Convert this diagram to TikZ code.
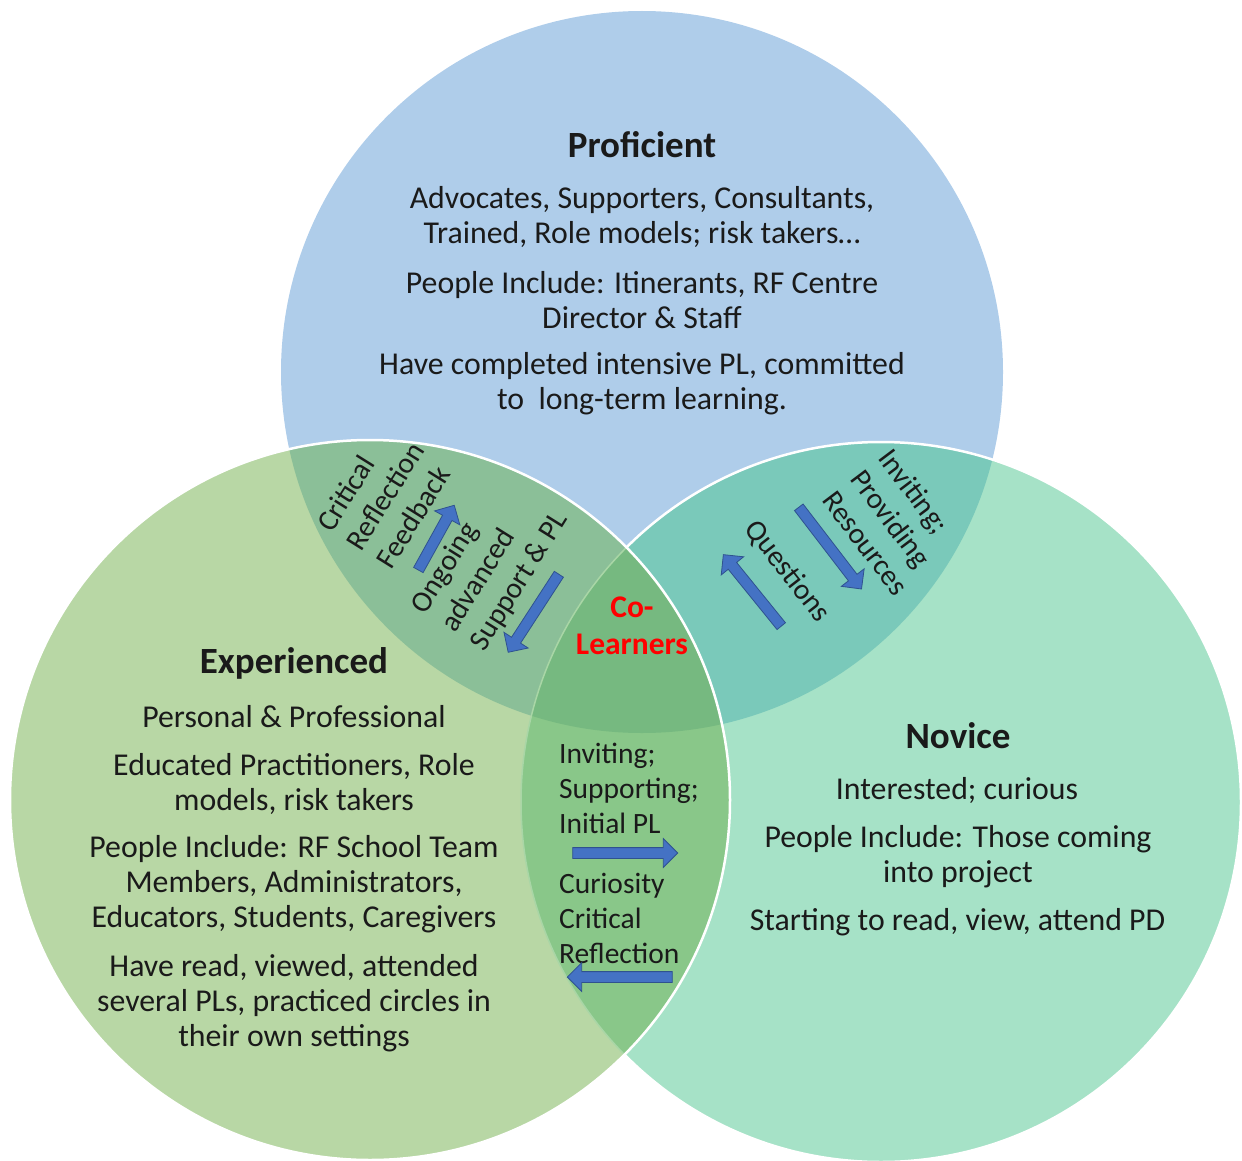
\documentclass[tikz,border=0pt]{standalone}
\usepackage{fontspec}
\setmainfont{Carlito}
\usetikzlibrary{shapes.arrows}

\definecolor{profc}{HTML}{AFCDEA}
\definecolor{expc}{HTML}{B8D7A5}
\definecolor{novc}{HTML}{A6E2C7}
\definecolor{pec}{HTML}{8BBF98}
\definecolor{pnc}{HTML}{7AC9BA}
\definecolor{enc}{HTML}{89C789}
\definecolor{allc}{HTML}{76B980}
\definecolor{faintc}{HTML}{A9D6A6}
\definecolor{inkc}{HTML}{1A1A1A}
\definecolor{arrowc}{HTML}{4472C4}
\definecolor{arrowedge}{HTML}{2F528F}
\definecolor{colearn}{HTML}{FF0000}

% the three sets
\newcommand\ProfSet{(642,372) circle[radius=361pt]}
\newcommand\ExpSet{(370,800) circle[radius=360pt]}
\newcommand\NovSet{(881,802) circle[radius=360pt]}

\begin{document}
\begin{tikzpicture}[x=1pt,y=-1pt,
  body/.style={font=\fontsize{31.8}{35}\selectfont, text=inkc, align=center, inner sep=0pt},
  title/.style={font=\fontsize{37}{42}\selectfont\bfseries, text=inkc, inner sep=0pt},
  side/.style={font=\fontsize{29.5}{35}\selectfont, text=inkc, align=left, inner sep=0pt},
  blockarrow/.style={single arrow, fill=arrowc, draw=arrowedge, line width=0.8pt,
    inner xsep=0pt, inner ysep=5pt, minimum width=28pt,
    single arrow head extend=9pt, single arrow tip angle=90}]

\useasboundingbox (0,0) rectangle (1242,1161);

% Proficient, then Novice over it
\fill[profc] \ProfSet;
\fill[novc] \NovSet;
\begin{scope}
  \clip \ProfSet;
  \fill[pnc] \NovSet;
\end{scope}
\draw[white, line width=2.5pt] \NovSet;

% Experienced on top
\fill[expc] \ExpSet;
\begin{scope}
  \clip \ExpSet;
  \fill[pec] \ProfSet;
  \fill[enc] \NovSet;
  \clip \ProfSet;
  \fill[allc] \NovSet;
\end{scope}
\begin{scope}
  \clip \ExpSet;
  \draw[faintc, line width=1.5pt] \NovSet;
\end{scope}
\draw[white, line width=2.5pt] \ExpSet;

% Proficient
\node[title] (profT) at (642,145) {Proficient};
\node[body] (prof1) at (642,216.5) {Advocates, Supporters, Consultants,\\Trained, Role models; risk takers…};
\node[body] (prof2) at (642,300.5) {People Include: Itinerants, RF Centre\\Director \& Staff};
\node[body] (prof3) at (642,383.5) {Have completed intensive PL, committed\\to~ long-term learning.};

% Experienced
\node[title] (expT) at (294,663) {Experienced};
\node[body] (exp1) at (294,717) {Personal \& Professional};
\node[body] (exp2) at (294,783.5) {Educated Practitioners, Role\\models, risk takers};
\node[body] (exp3) at (294,884) {People Include: RF School Team\\Members, Administrators,\\Educators, Students, Caregivers};
\node[body] (exp4) at (294,1003) {Have read, viewed, attended\\several PLs, practiced circles in\\their own settings};

% Novice
\node[title] (novT) at (958,736) {Novice};
\node[body] (nov1) at (957,790) {Interested; curious};
\node[body] (nov2) at (958,856.5) {People Include: Those coming\\into project};
\node[body] (nov3) at (957.5,922) {Starting to read, view, attend PD};

% centre of all three
\node[font=\fontsize{31.5}{37}\selectfont\bfseries, text=colearn, align=center, inner sep=0pt]
  (colearners) at (632,626) {Co-\\Learners};

% Experienced / Novice overlap
\node[side, anchor=west] (enUp) at (559,788) {Inviting;\\Supporting;\\Initial PL};
\node[side, anchor=west] (enDown) at (559,918.5) {Curiosity\\Critical\\Reflection};
\node[blockarrow, minimum height=105pt] (arrEN) at (622.5,853) {};
\node[blockarrow, minimum height=105pt, rotate=180] (arrNE) at (622.5,977) {};

% Proficient / Experienced overlap
\node[side, rotate=58] (peUp) at (385,496) {Critical\\Reflection\\Feedback};
\node[side, rotate=58] (peDown) at (490,563) {Ongoing\\advanced\\Support \& PL};
\node[blockarrow, minimum height=74pt, rotate=61] (arrEP) at (435,540) {};
\node[blockarrow, minimum height=93pt, rotate=237] (arrPE) at (535,611) {};

% Proficient / Novice overlap
\node[side, rotate=-53] (pnDown) at (894,522) {Inviting;\\Providing\\Resources};
\node[side, rotate=-52] (pnUp) at (787.5,571.5) {Questions};
\node[blockarrow, minimum height=103pt, rotate=-52.5] (arrPN) at (828.5,546) {};
\node[blockarrow, minimum height=92pt, rotate=129] (arrNP) at (754,592.5) {};

\end{tikzpicture}
\end{document}
